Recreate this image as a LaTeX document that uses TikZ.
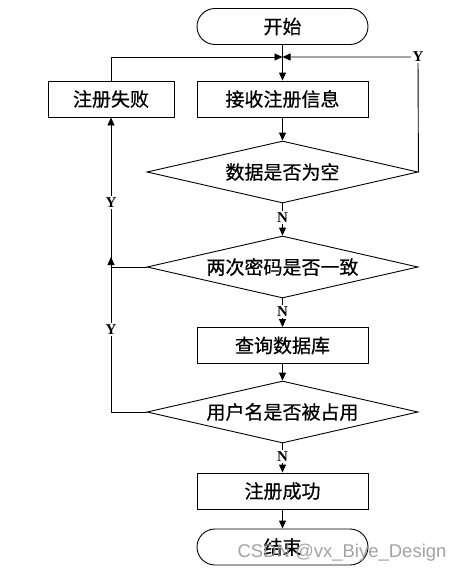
\documentclass[tikz,border=0pt]{standalone}
\usepackage{fontspec}
\setmainfont{Liberation Serif}
\newfontfamily\cjk{Noto Sans CJK SC}[FakeBold=0.6]
\newfontfamily\wmfont{Liberation Sans}
\usetikzlibrary{shapes.geometric,arrows.meta}
\tikzset{
  proc/.style={draw,line width=0.9pt,minimum width=171pt,minimum height=36pt,inner sep=0pt,font=\cjk\fontsize{19}{19}\selectfont},
  term/.style={proc,rounded corners=18pt},
  decis/.style={draw,diamond,aspect=4.37,line width=0.9pt,minimum width=271pt,minimum height=62pt,inner sep=0pt,font=\cjk\fontsize{19}{19}\selectfont},
  arr/.style={line width=0.9pt,-{Triangle[length=8pt,width=7pt]}},
  yn/.style={fill=white,inner sep=1.5pt,font=\bfseries\fontsize{15}{15}\selectfont}
}
\begin{document}
\begin{tikzpicture}[x=1pt,y=-1pt]
\useasboundingbox[fill=white] (0,0) rectangle (459,574);
\node[term] (start) at (282.5,26.5) {开始};
\node[proc] (rec) at (282.5,99) {接收注册信息};
\node[proc] (fail) at (111,99) [minimum width=126pt] {注册失败};
\node[decis] (d1) at (282.5,172) {数据是否为空};
\node[decis] (d2) at (282.5,267) {两次密码是否一致};
\node[proc] (q) at (282.5,345.5) {查询数据库};
\node[decis] (d3) at (282.5,412) {用户名是否被占用};
\node[proc] (ok) at (282.5,491) {注册成功};
\node[term] (end) at (282.5,547) {结束};
\coordinate (J) at (282.5,57);
\coordinate (Yc) at (418,57);
\coordinate (L2) at (111,267);
\coordinate (L2a) at (111,257);
\coordinate (L3) at (111,412);
\draw[arr] (start.south) -- (rec.north);
\draw[arr] (fail.north) |- (J);
\draw[arr] (d1.east) -- (Yc) -- (J);
\node[yn] (y1) at (Yc) {Y};
\draw[arr] (rec.south) -- (d1.north);
\draw[arr] (d1.south) -- node[yn,pos=0.45] (n1) {N} (d2.north);
\draw[arr] (d2.west) -- (L2) -- node[yn,pos=0.43] (y2) {Y} (fail.south);
\draw[arr] (d3.west) -- (L3) -- node[yn,pos=0.53] (y3) {Y} (L2a);
\draw[arr] (d2.south) -- node[yn,pos=0.45] (n2) {N} (q.north);
\draw[arr] (q.south) -- (d3.north);
\draw[arr] (d3.south) -- node[yn,pos=0.45] (n3) {N} (ok.north);
\draw[arr] (ok.south) -- (end.north);
\node[text=black!40,opacity=0.9,font=\wmfont\fontsize{18.5}{19}\selectfont] (wm) at (342,553) {CSDN @vx\_Biye\_Design};
\end{tikzpicture}
\end{document}
